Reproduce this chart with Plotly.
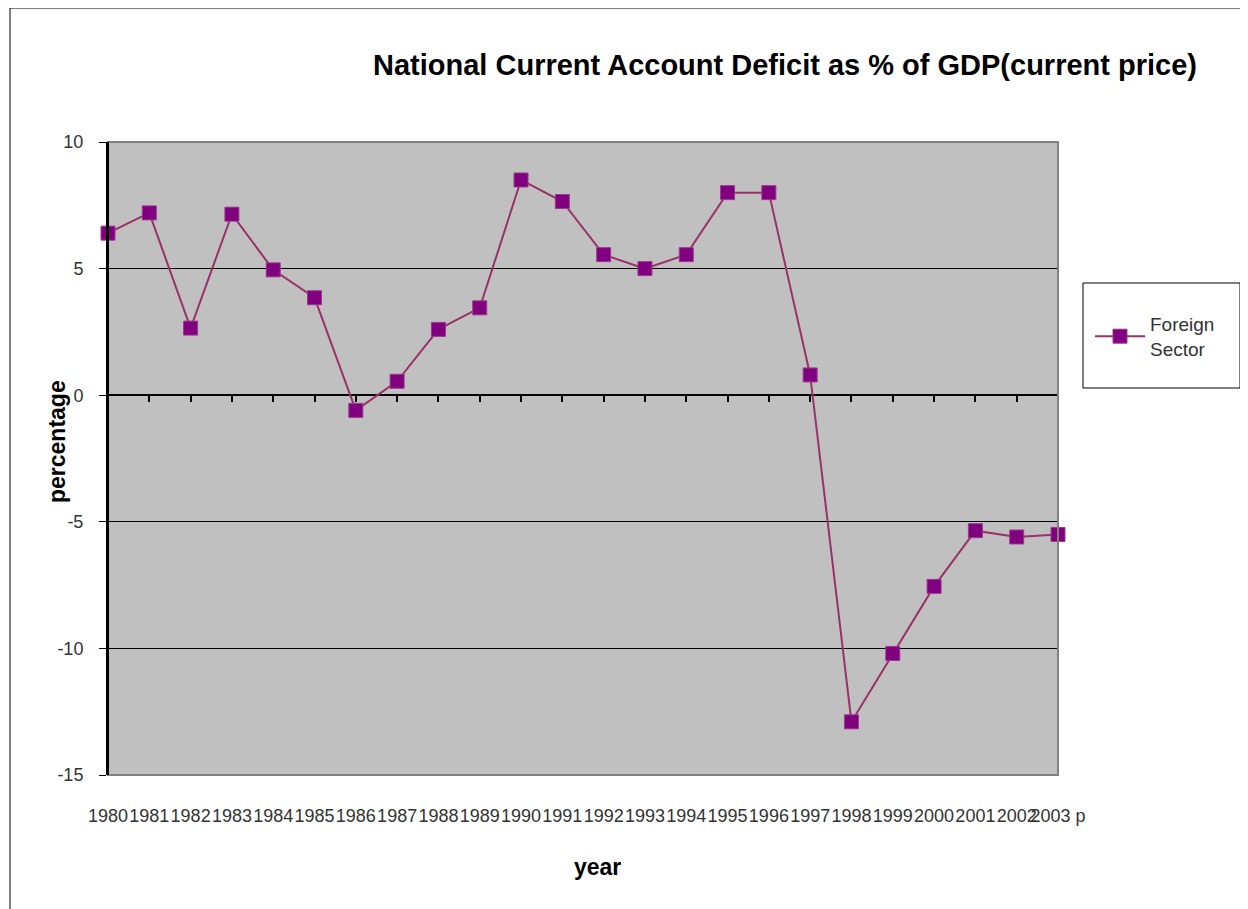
import plotly.graph_objects as go

years = ["1980", "1981", "1982", "1983", "1984", "1985", "1986", "1987", "1988", "1989",
         "1990", "1991", "1992", "1993", "1994", "1995", "1996", "1997", "1998", "1999",
         "2000", "2001", "2002", "2003 p"]
foreign_sector = [6.4, 7.2, 2.65, 7.15, 4.95, 3.85, -0.6, 0.55, 2.6, 3.45,
                  8.5, 7.65, 5.55, 5.0, 5.55, 8.0, 8.0, 0.8, -12.9, -10.2,
                  -7.55, -5.35, -5.6, -5.5]
y_ticks = [-15, -10, -5, 0, 5, 10]
y_tick_text = ["-15", "-10", "-5", "0", "5", "10"]

FONT = "Liberation Sans, Arial, sans-serif"
OFF = 8  # page body margin
W, H = 1248 - OFF, 909 - OFF
L, R, T, B = 108 - OFF, 1058 - OFF, 142 - OFF, 775 - OFF
idx = list(range(len(years)))

def px(x):  # x in reference screenshot pixels -> paper
    return (x - OFF - L) / (R - L)

def py(y):
    return (B - (y - OFF)) / (B - T)

fig = go.Figure()
fig.add_trace(go.Scatter(
    x=idx, y=foreign_sector, name="Foreign<br>Sector", mode="lines+markers",
    line=dict(color="#993366", width=2),
    marker=dict(symbol="square", size=14, color="#800080", line=dict(color="#9a3a8a", width=1)),
    cliponaxis=False,
))
fig.add_trace(go.Scatter(x=[0], y=[0], xaxis="x2", mode="markers",
                         marker=dict(opacity=0), showlegend=False, hoverinfo="skip"))

fig.update_layout(
    width=W, height=H,
    margin=dict(l=L, r=W - R, t=T, b=H - B),
    paper_bgcolor="white", plot_bgcolor="#C0C0C0",
    font=dict(family=FONT, size=16, color="#333333"),
    title=dict(text="<b>National Current Account Deficit as % of GDP(current price)</b>",
               x=(785 - OFF) / W, xanchor="center", y=1 - (65 - OFF) / H, yanchor="middle",
               font=dict(family=FONT, size=29, color="black")),
    xaxis=dict(range=[0, 23], tickmode="array", tickvals=idx, ticktext=years, tickangle=0,
               showgrid=False, zeroline=False, showline=False,
               ticks="outside", ticklen=24, tickcolor="rgba(0,0,0,0)",
               tickfont=dict(size=18, color="#333333")),
    xaxis2=dict(range=[0, 23], overlaying="x", anchor="free", position=py(395), side="bottom",
                tickmode="array", tickvals=idx[1:], showticklabels=False,
                ticks="outside", ticklen=6, tickwidth=1.5, tickcolor="black",
                showgrid=False, zeroline=False, showline=False),
    yaxis=dict(range=[-15, 10], tickmode="array", tickvals=y_ticks, ticktext=y_tick_text,
               showgrid=True, gridcolor="black", gridwidth=1,
               zeroline=True, zerolinecolor="black", zerolinewidth=1.5,
               showline=True, linecolor="black", linewidth=2,
               ticks="outside", ticklen=7, tickcolor="black", ticklabelstandoff=12,
               tickfont=dict(size=18, color="#333333")),
    showlegend=True,
    legend=dict(x=px(1090), y=py(305), xanchor="left", yanchor="top",
                bgcolor="rgba(0,0,0,0)", borderwidth=0, itemwidth=50,
                font=dict(family=FONT, size=19, color="#333333")),
    shapes=[
        dict(type="rect", xref="paper", yref="paper", x0=0, x1=1, y0=0, y1=1,
             line=dict(color="#808080", width=2), layer="above"),
        dict(type="line", xref="paper", yref="paper", x0=0, x1=0, y0=0, y1=1,
             line=dict(color="black", width=2), layer="above"),
        dict(type="rect", xref="paper", yref="paper", x0=px(1083), x1=px(1240), y0=py(388), y1=py(283),
             line=dict(color="black", width=1)),
        dict(type="rect", xref="paper", yref="paper", x0=px(10), x1=px(1270), y0=py(930), y1=py(8),
             line=dict(color="black", width=1)),
    ],
    annotations=[
        dict(text="<b>year</b>", xref="paper", yref="paper", x=px(597), y=py(867),
             xanchor="center", yanchor="middle", showarrow=False,
             font=dict(family=FONT, size=23, color="black")),
        dict(text="<b>percentage</b>", xref="paper", yref="paper", x=px(57), y=py(442),
             xanchor="center", yanchor="middle", showarrow=False, textangle=-90,
             font=dict(family=FONT, size=23, color="black")),
    ],
)

fig.write_html("out.html")
